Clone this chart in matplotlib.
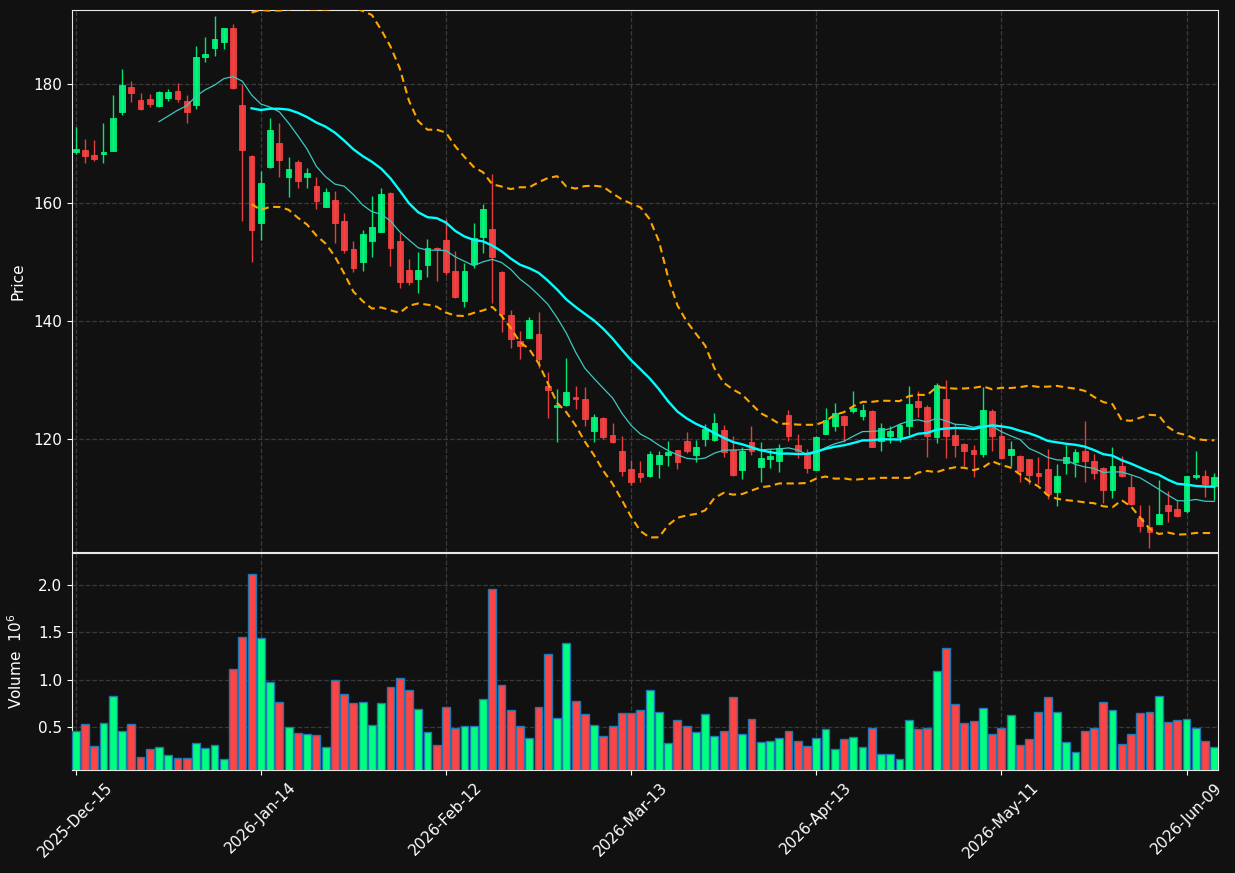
import numpy as np
import pandas as pd
import matplotlib
matplotlib.use("Agg")
import matplotlib.pyplot as plt

opens = [168.6, 168.9, 168.0, 168.2, 168.75, 175.2, 179.5, 177.3, 177.5, 176.3,
         177.7, 178.8, 177.1, 176.45, 184.6, 186.1, 187.1, 189.45, 176.4, 167.85,
         156.6, 166.0, 170.0, 164.35, 166.8, 164.35, 162.8, 159.3, 160.4, 156.9,
         152.15, 150.0, 153.55, 155.1, 161.6, 153.5, 148.6, 147.1, 149.45, 152.4,
         153.7, 148.4, 143.4, 149.7, 154.1, 155.5, 148.3, 141.0, 136.6, 137.2,
         137.8, 129.0, 125.4, 125.8, 127.2, 126.8, 121.5, 123.7, 120.8, 118.1,
         115.0, 114.3, 113.85, 115.9, 117.4, 118.2, 119.75, 117.45, 120.0, 119.9,
         121.6, 118.2, 114.85, 119.6, 115.4, 116.7, 116.4, 124.1, 119.0, 117.55,
         114.9, 121.0, 122.2, 124.0, 124.8, 124.0, 124.8, 119.8, 120.6, 120.4,
         122.3, 126.5, 125.5, 120.4, 126.8, 120.8, 119.2, 118.2, 117.6, 124.8,
         120.6, 117.4, 117.2, 116.65, 114.3, 115.0, 111.15, 116.1, 116.2, 118.05,
         116.4, 115.1, 111.4, 115.6, 111.9, 106.7, 105.3, 105.8, 108.9, 108.3,
         108.0, 113.7, 113.8, 112.2]

highs = [172.7, 170.7, 170.5, 173.4, 178.1, 182.5, 180.5, 178.5, 178.3, 178.8,
         179.1, 180.1, 178.1, 186.5, 187.9, 191.5, 189.5, 190.1, 180.0, 168.0,
         165.4, 174.3, 173.5, 167.6, 167.2, 165.9, 164.25, 162.4, 162.0, 158.2,
         153.45, 155.35, 161.1, 162.4, 161.7, 154.9, 150.4, 151.6, 153.8, 152.55,
         157.3, 151.8, 149.8, 156.5, 159.7, 164.75, 148.4, 141.85, 138.3, 140.7,
         141.5, 131.45, 128.5, 133.8, 129.0, 128.8, 124.3, 123.8, 122.7, 120.6,
         116.5, 116.4, 118.0, 118.05, 119.8, 118.3, 121.3, 119.9, 122.6, 124.4,
         122.45, 120.6, 118.8, 122.3, 119.5, 118.35, 119.2, 124.9, 120.9, 118.35,
         120.5, 125.3, 126.1, 124.1, 128.1, 125.95, 125.0, 122.7, 122.3, 122.8,
         129.0, 128.2, 125.9, 129.6, 130.0, 122.7, 119.4, 119.0, 128.8, 125.1,
         122.7, 119.8, 117.3, 116.7, 117.0, 118.35, 115.9, 119.0, 118.35, 123.1,
         117.5, 115.3, 118.7, 117.2, 114.0, 108.9, 108.9, 113.2, 111.25, 109.8,
         113.9, 118.0, 114.85, 114.3]

lows = [168.2, 166.6, 167.05, 166.6, 168.7, 174.7, 176.9, 175.7, 176.1, 176.1,
        177.2, 176.9, 173.5, 175.8, 183.7, 184.8, 186.0, 179.1, 156.9, 149.9,
        153.7, 165.9, 164.35, 160.9, 162.4, 162.4, 158.95, 159.2, 153.1, 151.5,
        148.2, 148.5, 150.85, 155.0, 149.3, 145.5, 146.1, 144.8, 147.4, 146.8,
        147.8, 143.9, 142.4, 149.0, 151.4, 143.0, 138.1, 135.5, 133.5, 137.1,
        132.0, 123.7, 119.5, 125.7, 125.2, 122.2, 119.6, 120.1, 119.4, 113.8,
        112.3, 112.8, 113.7, 113.45, 115.6, 115.0, 117.7, 116.25, 118.9, 119.8,
        117.0, 113.8, 113.3, 117.3, 112.9, 115.25, 114.5, 119.8, 116.8, 114.3,
        114.8, 120.9, 121.5, 119.6, 124.5, 123.2, 118.7, 118.0, 119.4, 119.6,
        120.7, 123.85, 117.1, 119.4, 116.8, 117.0, 115.6, 113.7, 117.0, 118.0,
        116.7, 115.5, 112.8, 112.4, 112.4, 110.0, 108.7, 114.2, 113.6, 112.8,
        113.3, 109.35, 110.1, 113.7, 109.0, 104.35, 101.6, 105.7, 106.1, 106.9,
        107.5, 113.3, 110.25, 109.8]

closes = [169.0, 167.9, 167.4, 168.5, 174.3, 179.8, 178.5, 175.8, 176.7, 178.6,
          178.6, 177.5, 175.2, 184.56, 185.1, 187.6, 189.45, 179.3, 168.9, 155.4,
          163.3, 172.2, 167.2, 165.6, 163.7, 165.0, 160.3, 161.8, 156.6, 151.9,
          149.0, 154.7, 155.9, 161.4, 152.4, 146.6, 146.5, 148.6, 152.4, 152.1,
          148.3, 144.05, 148.4, 154.0, 158.9, 150.75, 141.2, 137.0, 135.8, 140.2,
          133.6, 128.35, 125.8, 128.0, 126.8, 123.5, 123.8, 120.4, 119.6, 114.6,
          112.9, 113.7, 117.55, 117.4, 117.8, 116.25, 118.05, 118.7, 121.7, 122.8,
          117.95, 114.0, 118.05, 118.05, 116.9, 117.2, 118.6, 120.5, 118.1, 115.1,
          120.4, 123.3, 124.5, 122.5, 125.3, 125.0, 118.8, 121.9, 121.4, 122.45,
          125.95, 125.4, 120.65, 129.2, 120.65, 119.1, 118.05, 117.6, 125.0, 120.65,
          116.8, 118.35, 114.6, 114.0, 113.85, 110.8, 113.85, 117.05, 117.9, 116.4,
          114.4, 111.4, 115.6, 113.9, 109.1, 105.45, 104.4, 107.4, 108.0, 107.1,
          113.85, 113.95, 112.55, 113.6]

volumes = [0.454, 0.528, 0.296, 0.539, 0.824, 0.454, 0.528, 0.180, 0.264, 0.285,
           0.200, 0.169, 0.169, 0.327, 0.275, 0.306, 0.158, 1.109, 1.447, 2.123,
           1.437, 0.972, 0.761, 0.496, 0.433, 0.423, 0.412, 0.285, 0.993, 0.845,
           0.750, 0.761, 0.518, 0.750, 0.919, 1.014, 0.887, 0.687, 0.444, 0.306,
           0.708, 0.486, 0.507, 0.507, 0.792, 1.954, 0.940, 0.676, 0.507, 0.380,
           0.708, 1.268, 0.592, 1.384, 0.771, 0.634, 0.518, 0.401, 0.507, 0.644,
           0.644, 0.676, 0.887, 0.655, 0.327, 0.570, 0.507, 0.444, 0.634, 0.401,
           0.454, 0.813, 0.423, 0.581, 0.338, 0.349, 0.380, 0.454, 0.349, 0.296,
           0.380, 0.475, 0.264, 0.370, 0.391, 0.285, 0.486, 0.211, 0.211, 0.158,
           0.570, 0.475, 0.486, 1.088, 1.331, 0.739, 0.539, 0.560, 0.697, 0.423,
           0.486, 0.623, 0.306, 0.370, 0.655, 0.813, 0.655, 0.338, 0.232, 0.454,
           0.486, 0.761, 0.676, 0.317, 0.423, 0.644, 0.655, 0.824, 0.549, 0.570,
           0.581, 0.486, 0.349, 0.285]

tick_positions = [0, 20, 40, 60, 80, 100, 120]
tick_labels = ['2025-Dec-15', '2026-Jan-14', '2026-Feb-12', '2026-Mar-13',
               '2026-Apr-13', '2026-May-11', '2026-Jun-09']

BG = '#111111'
UP = '#00ff7f'
DOWN = '#ff4444'
GRID = '#3a3a3a'
FG = '#ffffff'

o = np.array(opens); h = np.array(highs); l = np.array(lows); c = np.array(closes)
v = np.array(volumes)
x = np.arange(len(c))
up = c >= o
cols = np.where(up, UP, DOWN)

cs = pd.Series(c)
mav10 = cs.rolling(10).mean()
mav20 = cs.rolling(20).mean()
std20 = cs.rolling(20).std()
bb_up = mav20 + 2 * std20
bb_lo = mav20 - 2 * std20

fig = plt.figure(figsize=(12.35, 8.73), dpi=100, facecolor=BG)
ax = fig.add_axes([72/1235, 1-552/873, 1146/1235, 542/873], facecolor=BG)
axv = fig.add_axes([72/1235, 1-770/873, 1146/1235, 217/873], facecolor=BG, sharex=ax)

# candles
ax.vlines(x, l, h, colors=cols, linewidth=1.0, alpha=0.9, zorder=2)
body = np.where(np.abs(c - o) < 0.15, 0.15, c - o)
ax.bar(x, body, bottom=o, width=0.62, color=cols, edgecolor=cols, linewidth=0.6,
       alpha=0.9, zorder=3)

# moving averages and bands
ax.plot(x, mav10, color='#3cc8c0', linewidth=0.9, zorder=4)
ax.plot(x, mav20, color='#00ffff', linewidth=1.7, zorder=4)
ax.plot(x, bb_up, color='#ffa500', linewidth=1.5, linestyle=(0, (3.5, 2.2)), zorder=4)
ax.plot(x, bb_lo, color='#ffa500', linewidth=1.5, linestyle=(0, (3.5, 2.2)), zorder=4)

# volume
axv.bar(x, v, width=0.85, color=cols, edgecolor='#1f77b4', linewidth=1.0, zorder=3)

ax.set_xlim(-0.4, 123.4)
ax.set_ylim(101.0, 192.5)
axv.set_ylim(0.045, 2.34)
ax.set_yticks([120, 140, 160, 180])
axv.set_yticks([0.5, 1.0, 1.5, 2.0])
axv.set_xticks(tick_positions)
axv.set_xticklabels(tick_labels, rotation=45, ha='center')
plt.setp(ax.get_xticklabels(), visible=False)

for a in (ax, axv):
    a.grid(True, color=GRID, linestyle='--', linewidth=0.9)
    a.set_axisbelow(True)
    for s in a.spines.values():
        s.set_color('#e8e8e8')
    a.tick_params(colors=FG, labelsize=11)
ax.tick_params(axis='x', length=0)

ax.set_ylabel('Price', color=FG, fontsize=11)
axv.set_ylabel('Volume  $10^{6}$', color=FG, fontsize=11)
ax.yaxis.set_label_coords(-0.041, 0.5)
axv.yaxis.set_label_coords(-0.041, 0.5)

fig.savefig('out.png', dpi=100, facecolor=BG)
